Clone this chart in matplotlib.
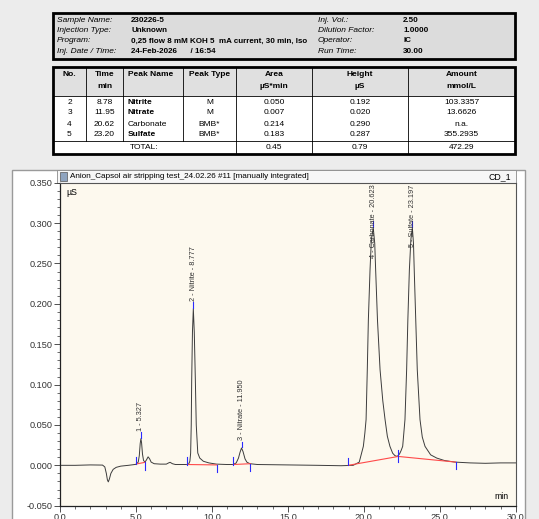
import matplotlib.pyplot as plt
from matplotlib.patches import Rectangle
from matplotlib.ticker import MultipleLocator, FormatStrFormatter

plt.rcParams['font.family'] = ['Liberation Sans', 'DejaVu Sans']

# ---- report header ----
info_left = [('Sample Name:', '230226-5'),
             ('Injection Type:', 'Unknown'),
             ('Program:', '0,25 flow 8 mM KOH 5  mA current, 30 min, Iso'),
             ('Inj. Date / Time:', '24-Feb-2026      / 16:54')]
info_right = [('Inj. Vol.:', '2.50'),
              ('Dilution Factor:', '1.0000'),
              ('Operator:', 'IC'),
              ('Run Time:', '30.00')]

# ---- peak table ----
col_head1 = ['No.', 'Time', 'Peak Name', 'Peak Type', 'Area', 'Height', 'Amount']
col_head2 = ['', 'min', '', '', 'µS*min', 'µS', 'mmol/L']
peak_no = ['2', '3', '4', '5']
peak_time = ['8.78', '11.95', '20.62', '23.20']
peak_name = ['Nitrite', 'Nitrate', 'Carbonate', 'Sulfate']
peak_type = ['M', 'M', 'BMB*', 'BMB*']
peak_area = ['0.050', '0.007', '0.214', '0.183']
peak_height = ['0.192', '0.020', '0.290', '0.287']
peak_amount = ['103.3357', '13.6626', 'n.a.', '355.2935']
totals = ['0.45', '0.79', '472.29']

# ---- chromatogram trace (min, µS) ----
t = [0.0, 1.0, 2.0, 2.8, 2.95, 3.05, 3.12, 3.18, 3.25, 3.35, 3.5, 3.7, 4.0, 4.5,
     5.0, 5.15, 5.22, 5.28, 5.327, 5.37, 5.43, 5.5, 5.6, 5.7, 5.8, 5.9, 6.0, 6.2,
     6.6, 7.0, 7.15, 7.25, 7.4, 7.6, 8.2, 8.45, 8.55, 8.6, 8.64, 8.67, 8.72, 8.777,
     8.84, 8.91, 8.97, 9.07, 9.2, 9.44, 9.8, 10.3, 11.0, 11.4, 11.6, 11.75, 11.85,
     11.95, 12.05, 12.18, 12.3, 12.5, 13.0, 15.0, 17.0, 18.5, 19.3, 19.7, 19.97,
     20.07, 20.15, 20.23, 20.3, 20.41, 20.5, 20.623, 20.72, 20.78, 20.9, 21.07,
     21.25, 21.4, 21.55, 21.72, 21.9, 22.05, 22.2, 22.35, 22.45, 22.56, 22.71,
     22.82, 22.9, 23.0, 23.1, 23.197, 23.27, 23.32, 23.42, 23.52, 23.7, 23.85,
     24.03, 24.4, 24.8, 25.3, 26.0, 27.0, 28.0, 29.0, 30.0]
y = [0.0, 0.0, 0.0005, 0.0003, -0.002, -0.010, -0.018, -0.0205, -0.017, -0.010,
     -0.005, -0.0025, -0.001, 0.0, 0.0012, 0.004, 0.012, 0.027, 0.033, 0.028, 0.014,
     0.006, 0.004, 0.007, 0.0105, 0.008, 0.004, 0.002, 0.0015, 0.0015, 0.003, 0.0037,
     0.002, 0.001, 0.001, 0.001, 0.005, 0.015, 0.05, 0.106, 0.165, 0.194, 0.165,
     0.106, 0.05, 0.0153, 0.009, 0.005, 0.003, 0.0015, 0.001, 0.001, 0.003, 0.009,
     0.016, 0.0215, 0.017, 0.008, 0.004, 0.002, 0.001, 0.0005, 0.0, -0.0005, 0.0,
     0.004, 0.0235, 0.04, 0.0566, 0.1185, 0.18, 0.242, 0.28, 0.294, 0.275, 0.242,
     0.18, 0.1185, 0.08, 0.0566, 0.036, 0.0235, 0.015, 0.012, 0.011, 0.014, 0.018,
     0.0235, 0.0566, 0.1185, 0.18, 0.242, 0.28, 0.294, 0.275, 0.242, 0.18, 0.1185,
     0.0566, 0.035, 0.0235, 0.013, 0.009, 0.006, 0.004, 0.003, 0.0025, 0.003, 0.003]

# integration baselines and peak markers
base_t = [[5.03, 5.6], [8.38, 10.32], [11.41, 12.53], [18.98, 22.27, 26.05]]
base_y = [[0.0017, 0.0037], [0.001, 0.0005], [0.001, 0.002], [0.0, 0.011, 0.004]]
apex_t = [5.327, 8.777, 11.950, 20.623, 23.197]
apex_y = [0.033, 0.194, 0.0215, 0.294, 0.294]
apex_lbl = ['1 - 5.327', '2 - Nitrite - 8.777', '3 - Nitrate - 11.950',
            '4 - Carbonate - 20.623', '5 - Sulfate - 23.197']

W, H = 539, 519
FS = 6.0
fig = plt.figure(figsize=(W / 100, H / 100), dpi=100)
fig.patch.set_facecolor('#ececec')

# overlay in pixel coordinates for the report boxes
ov = fig.add_axes([0, 0, 1, 1])
ov.set_xlim(0, W)
ov.set_ylim(H, 0)
ov.axis('off')

# header box
ov.add_patch(Rectangle((53, 13), 462, 46, facecolor='#dcdcdc', edgecolor='black', lw=2))
rows = [20, 30.5, 41, 51.5]
for i in range(4):
    ov.text(57, rows[i], info_left[i][0], fontsize=FS, style='italic', va='center')
    ov.text(131, rows[i], info_left[i][1], fontsize=5.8, weight='bold', va='center')
    ov.text(318, rows[i], info_right[i][0], fontsize=FS, style='italic', va='center')
    ov.text(403, rows[i], info_right[i][1], fontsize=5.8, weight='bold', va='center')

# peak table
tx0, tx1 = 53, 515
cols = [53, 86, 123, 183, 236, 312, 408, 515]
ty0, th1, ty_tot, ty1 = 67, 96, 141, 154
ov.add_patch(Rectangle((tx0, ty0), tx1 - tx0, th1 - ty0, facecolor='#e0e0e0', edgecolor='none'))
ov.add_patch(Rectangle((tx0, th1), tx1 - tx0, ty1 - th1, facecolor='white', edgecolor='none'))
for cx in cols[1:-1]:
    ov.plot([cx, cx], [ty0, ty_tot], color='black', lw=0.6)
for cx in cols[4:-1]:
    ov.plot([cx, cx], [ty_tot, ty1], color='black', lw=0.6)
ov.plot([tx0, tx1], [th1, th1], color='black', lw=0.6)
ov.plot([tx0, tx1], [ty_tot, ty_tot], color='black', lw=0.6)
ov.add_patch(Rectangle((tx0, ty0), tx1 - tx0, ty1 - ty0, facecolor='none', edgecolor='black', lw=2))

centers = [(cols[i] + cols[i + 1]) / 2 for i in range(7)]
for i in range(7):
    if i == 2:
        ov.text(cols[2] + 5, 74, col_head1[i], fontsize=FS, weight='bold', va='center')
    else:
        ov.text(centers[i], 74, col_head1[i], fontsize=FS, weight='bold', va='center', ha='center')
        ov.text(centers[i], 86, col_head2[i], fontsize=FS, weight='bold', va='center', ha='center')
rows = [102, 113, 124, 135]
for r in range(4):
    cells = [peak_no[r], peak_time[r], peak_name[r], peak_type[r],
             peak_area[r], peak_height[r], peak_amount[r]]
    for i in range(7):
        if i == 2:
            ov.text(cols[2] + 5, rows[r], cells[i], fontsize=FS, va='center',
                    weight='bold' if r != 2 else 'normal')
        else:
            ov.text(centers[i], rows[r], cells[i], fontsize=FS, va='center', ha='center')
ov.text((cols[0] + cols[4]) / 2, 147.5, 'TOTAL:', fontsize=FS, va='center', ha='center')
for i in range(3):
    ov.text(centers[4 + i], 147.5, totals[i], fontsize=FS, va='center', ha='center')

# chart window
ov.add_patch(Rectangle((12, 170), 513, 360, facecolor='white', edgecolor='#9a9a9a', lw=1))
ov.add_patch(Rectangle((57, 170), 458.7, 12.7, facecolor='#f7f7f7', edgecolor='#8a8a8a', lw=0.6))
ov.add_patch(Rectangle((59.5, 172), 7, 8.5, facecolor='#8fa4bf', edgecolor='#555555', lw=0.5))
ov.text(70, 176.5, 'Anion_Capsol air stripping test_24.02.26 #11 [manually integrated]',
        fontsize=5.9, va='center')
ov.text(511, 176.5, 'CD_1', fontsize=6.3, va='center', ha='right')

# chromatogram axes
ax = fig.add_axes([60 / W, (H - 505.7) / H, 455.7 / W, 323 / H])
ax.set_facecolor('#fdf9ee')
ax.plot(t, y, color='#3c3c3c', lw=0.7)
for bt, by in zip(base_t, base_y):
    ax.plot(bt, by, color='#ff4a4a', lw=0.8)
    ax.plot([bt[0], bt[0]], [by[0], by[0] + 0.009], color='#2a2aff', lw=0.8)
    ax.plot([bt[-1], bt[-1]], [by[-1] - 0.009, by[-1]], color='#2a2aff', lw=0.8)
    for k in range(1, len(bt) - 1):
        ax.plot([bt[k], bt[k]], [by[k] - 0.007, by[k] + 0.008], color='#2a2aff', lw=0.8)
for pt, py, lb in zip(apex_t, apex_y, apex_lbl):
    ax.plot([pt, pt], [py + 0.001, py + 0.008], color='#2a2aff', lw=0.8)
    if py > 0.25:
        ax.text(pt, 0.3475, lb, rotation=90, fontsize=5.3, ha='center', va='top', color='#333333')
    else:
        ax.text(pt, py + 0.010, lb, rotation=90, fontsize=5.3, ha='center', va='bottom', color='#333333')

ax.set_xlim(0, 30)
ax.set_ylim(-0.05, 0.35)
ax.xaxis.set_major_locator(MultipleLocator(5))
ax.xaxis.set_minor_locator(MultipleLocator(1))
ax.yaxis.set_major_locator(MultipleLocator(0.05))
ax.yaxis.set_minor_locator(MultipleLocator(0.01))
ax.xaxis.set_major_formatter(FormatStrFormatter('%.1f'))
ax.yaxis.set_major_formatter(FormatStrFormatter('%.3f'))
ax.tick_params(which='major', length=4, width=0.6, labelsize=6.6, colors='#333333', pad=1.5)
ax.tick_params(which='minor', length=2, width=0.5, colors='#333333')
for s in ['top', 'right']:
    ax.spines[s].set_color('#555555')
for s in ['left', 'bottom']:
    ax.spines[s].set_color('#222222')
    ax.spines[s].set_linewidth(0.9)
ax.text(0.013, 0.985, 'µS', transform=ax.transAxes, fontsize=6.3, va='top')
ax.text(0.985, 0.015, 'min', transform=ax.transAxes, fontsize=6.3, va='bottom', ha='right')

fig.savefig('out.png', dpi=100, facecolor=fig.get_facecolor())
